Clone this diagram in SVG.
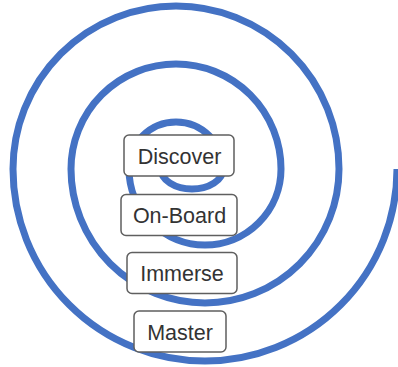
<svg xmlns="http://www.w3.org/2000/svg" width="398" height="367" viewBox="0 0 398 367">
  <style>
    .spiral { fill: none; stroke: #4472c4; stroke-width: 7; stroke-linecap: butt; }
    .box { fill: #ffffff; stroke: #5f5f5f; stroke-width: 1.5; }
    .label { font-family: "Liberation Sans", Arial, sans-serif; font-size: 21.5px; fill: #333333; text-anchor: middle; }
  </style>
  <rect width="398" height="367" fill="#ffffff"/>
  <g id="connectors">
    <path class="spiral" d="M397,169 A192,192 0 0 1 13,169 A163,163 0 0 1 339,169 A134,134 0 0 1 71,169 A105,105 0 0 1 281,169 A76,76 0 0 1 129,169 A47,47 0 0 1 223,169 A31,20 0 0 1 161,169"/>
  </g>
  <g id="discover">
    <rect class="box" x="124" y="135" width="110" height="41" rx="5"/>
    <text class="label" x="179.5" y="164">Discover</text>
  </g>
  <g id="onboard">
    <rect class="box" x="121" y="194.5" width="116" height="41" rx="5"/>
    <text class="label" x="179.5" y="223">On-Board</text>
  </g>
  <g id="immerse">
    <rect class="box" x="127" y="252.5" width="110" height="41" rx="5"/>
    <text class="label" x="182" y="281">Immerse</text>
  </g>
  <g id="master">
    <rect class="box" x="134" y="311" width="92" height="41" rx="5"/>
    <text class="label" x="180" y="339.5">Master</text>
  </g>
</svg>
